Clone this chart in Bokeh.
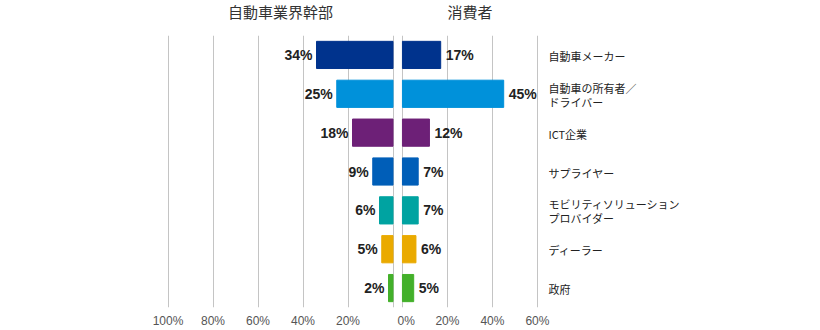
from bokeh.plotting import figure
from bokeh.layouts import row, column
from bokeh.models import Range1d, FactorRange, FixedTicker, ColumnDataSource
from bokeh.core.properties import value
from bokeh.embed import file_html
from bokeh.resources import INLINE

# ---- data ----
categories = ["自動車メーカー", "自動車の所有者／\nドライバー", "ICT企業", "サプライヤー",
              "モビリティソリューション\nプロバイダー", "ディーラー", "政府"]
executives = [34, 25, 18, 9, 6, 5, 2]
consumers = [17, 45, 12, 7, 7, 6, 5]
colors = ["#00338D", "#0091DA", "#6D2077", "#005EB8", "#00A3A1", "#EAAA00", "#43B02A"]
panel_titles = ["自動車業界幹部", "消費者"]
left_ticks = [100, 80, 60, 40, 20]
right_ticks = [0, 20, 40, 60]

CJK = "Noto Sans CJK JP"
LAT = "Liberation Sans"
GRID = "#c4c4c4"

# geometry
W = 820
HEAD = 35
BODY = 330 - HEAD
BOTTOM = 22
PX = 2.25                 # pixels per percentage point
LEFT_BORDER = 163
LEFT_RANGE = (102, -2)
RIGHT_RANGE_START = -2.2
LEFT_W = LEFT_BORDER + int(round((LEFT_RANGE[0] - LEFT_RANGE[1]) * PX))
RIGHT_W = W - LEFT_W

src = ColumnDataSource(dict(
    cat=categories,
    ex=executives,
    co=consumers,
    color=colors,
    ex_lbl=[f"{v}%" for v in executives],
    co_lbl=[f"{v}%" for v in consumers],
    label_x=[64.9] * len(categories),
))

yr = FactorRange(factors=list(reversed(categories)))


def style(p):
    p.outline_line_color = None
    p.background_fill_color = "white"
    p.border_fill_color = "white"
    p.ygrid.visible = False
    p.xgrid.grid_line_color = GRID
    p.xgrid.grid_line_width = 1
    ax = p.xaxis[0]
    ax.axis_line_color = None
    ax.major_tick_line_color = None
    ax.minor_tick_line_color = None
    ax.major_tick_out = 0
    ax.major_tick_in = 0
    ax.minor_tick_out = 0
    ax.major_label_text_font = LAT
    ax.major_label_text_font_size = "12px"
    ax.major_label_text_color = "#555555"
    ax.major_label_standoff = 6


# ---- left panel (executives), reversed axis ----
p1 = figure(width=LEFT_W, height=BODY, x_range=Range1d(*LEFT_RANGE), y_range=yr,
            output_backend="svg", toolbar_location=None, y_axis_location=None,
            min_border_left=LEFT_BORDER, min_border_right=0, min_border_top=0,
            min_border_bottom=BOTTOM)
style(p1)
p1.xaxis.ticker = FixedTicker(ticks=left_ticks)
p1.xgrid.ticker = FixedTicker(ticks=left_ticks + [0])
p1.xaxis.major_label_overrides = {t: f"{t}%" for t in left_ticks}
p1.hbar(y="cat", left=0, right="ex", height=0.7, color="color", source=src)
p1.text(x="ex", y="cat", text="ex_lbl", source=src, x_offset=-4, text_align="right",
        text_baseline="middle", text_font=value(LAT), text_font_size="14px",
        text_font_style="bold", text_color="#222222")

# ---- right panel (consumers) ----
p2 = figure(width=RIGHT_W, height=BODY,
            x_range=Range1d(RIGHT_RANGE_START, RIGHT_RANGE_START + RIGHT_W / PX), y_range=yr,
            output_backend="svg", toolbar_location=None, y_axis_location=None,
            min_border_left=0, min_border_right=0, min_border_top=0,
            min_border_bottom=BOTTOM)
style(p2)
p2.xaxis.ticker = FixedTicker(ticks=[-1.8] + right_ticks[1:])
p2.xaxis.major_label_overrides = {-1.8: "0%", **{t: f"{t}%" for t in right_ticks[1:]}}
p2.xgrid.ticker = FixedTicker(ticks=right_ticks)
p2.hbar(y="cat", left=0, right="co", height=0.7, color="color", source=src)
p2.text(x="co", y="cat", text="co_lbl", source=src, x_offset=5, text_align="left",
        text_baseline="middle", text_font=value(LAT), text_font_size="14px",
        text_font_style="bold", text_color="#222222")
p2.text(x="label_x", y="cat", text="cat", source=src, text_align="left",
        text_baseline="middle", text_font=value(CJK), text_font_size="11px",
        text_color="#222222", text_line_height=0.86, y_offset=1)

# ---- header with panel titles (centred over each panel's 0..max span) ----
left_center = LEFT_BORDER + (LEFT_RANGE[0] - 50) * PX
right_center = LEFT_W + (30 - RIGHT_RANGE_START) * PX
head = figure(width=W, height=HEAD, x_range=Range1d(0, W), y_range=Range1d(0, HEAD),
              output_backend="svg", toolbar_location=None, x_axis_location=None,
              y_axis_location=None, min_border=0)
head.outline_line_color = None
head.grid.visible = False
head.text(x=[left_center, right_center], y=[HEAD - 11, HEAD - 11], text=panel_titles,
          text_align="center", text_baseline="middle", text_font=value(CJK),
          text_font_size="15px", text_color="#333333")

layout = column(head, row(p1, p2))
open("out.html", "w").write(file_html(layout, INLINE))
